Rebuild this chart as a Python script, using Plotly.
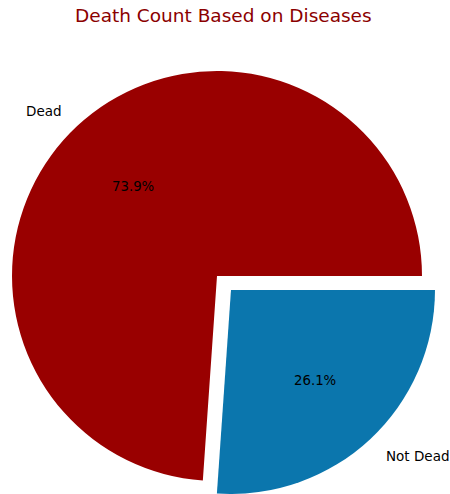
import math
import plotly.graph_objects as go

# ---- data ----
labels = ["Dead", "Not Dead"]
values = [73.9, 26.1]
colors = ["#990000", "#0b76ad"]
explode = [0.0, 0.1]
title_text = "Death Count Based on Diseases"

W, H = 450, 494
CX, CY = 217, 276      # pie centre in pixels (from top-left)
R = 205                # radius in pixels
FONT = "DejaVu Sans"

total = sum(values)
fracs = [v / total for v in values]
# matplotlib-like start at 3 o'clock going counter-clockwise
rotation = 90 - 360.0 * fracs[0]

fig = go.Figure()
annotations = []

def clamp(a):
    return max(0.0, min(1.0, a))

start = 0.0
for i, (lab, f) in enumerate(zip(labels, fracs)):
    mid = math.radians(360.0 * (start + f / 2))  # CCW from 3 o'clock
    start += f
    ox = explode[i] * R * math.cos(mid)
    oy = -explode[i] * R * math.sin(mid)
    cx, cy = CX + ox, CY + oy
    dom_x = [clamp((cx - R) / W), clamp((cx + R) / W)]
    dom_y = [clamp((H - cy - R) / H), clamp((H - cy + R) / H)]
    slice_colors = [c if j == i else "rgba(0,0,0,0)" for j, c in enumerate(colors)]
    fig.add_trace(go.Pie(
        labels=labels, values=values, sort=False,
        direction="counterclockwise", rotation=rotation,
        marker=dict(colors=slice_colors, line=dict(width=0)),
        textinfo="none", hoverinfo="label+percent",
        domain=dict(x=dom_x, y=dom_y), showlegend=False,
    ))
    # percentage label at 0.6 R
    px = cx + 0.6 * R * math.cos(mid)
    py = cy - 0.6 * R * math.sin(mid)
    annotations.append(dict(
        x=px / W, y=1 - py / H, xref="paper", yref="paper",
        text=f"{f*100:.1f}%", showarrow=False, xanchor="center", yanchor="middle",
        font=dict(family=FONT, size=13.3, color="black"),
    ))
    # category label at 1.1 R
    lx = cx + 1.1 * R * math.cos(mid)
    ly = cy - 1.1 * R * math.sin(mid)
    annotations.append(dict(
        x=lx / W, y=1 - ly / H, xref="paper", yref="paper",
        text=lab, showarrow=False,
        xanchor="right" if math.cos(mid) < 0 else "left", yanchor="middle",
        borderpad=0,
        font=dict(family=FONT, size=13.5, color="black"),
    ))

annotations.append(dict(
    x=223 / W, y=1 - 15 / H, xref="paper", yref="paper",
    text=title_text, showarrow=False, xanchor="center", yanchor="middle",
    font=dict(family=FONT, size=18.5, color="#8B0000"),
))

fig.update_layout(
    width=W, height=H,
    margin=dict(l=0, r=0, t=0, b=0),
    paper_bgcolor="white", plot_bgcolor="white",
    annotations=annotations,
    showlegend=False,
)

fig.write_html("out.html", config={"displayModeBar": False},
               post_script="document.body.style.margin='0px';")
